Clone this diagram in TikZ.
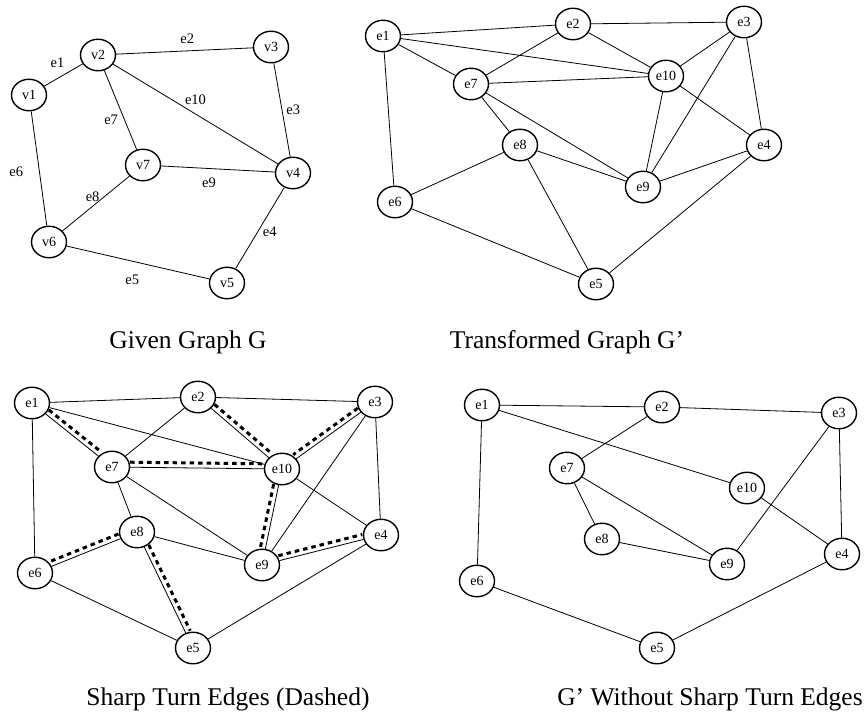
\documentclass[tikz,border=0pt]{standalone}
\usepackage{fontspec}
\setmainfont{Liberation Serif}
\usepackage{tikz}
\usetikzlibrary{shapes.geometric, positioning}

\begin{document}
\begin{tikzpicture}[
    x=1pt, y=-1pt,
    vertex/.style={draw, ellipse, line width=1.4pt, minimum width=35pt, minimum height=31.5pt, inner sep=0pt, font=\fontsize{14}{16}\selectfont},
    edge/.style={line width=0.8pt},
    sharp/.style={line width=3pt, dash pattern=on 4.5pt off 4pt},
    elabel/.style={font=\fontsize{14.5}{16}\selectfont, inner sep=1pt},
    caption/.style={font=\fontsize{25.5}{30}\selectfont, anchor=base}
]
    \useasboundingbox (0,0) rectangle (865,715);

    % Given graph G
    \node[vertex] (v1) at (29,95) {v1};
    \node[vertex] (v2) at (98,55) {v2};
    \node[vertex] (v3) at (271,47) {v3};
    \node[vertex] (v4) at (293,173) {v4};
    \node[vertex] (v5) at (227,283) {v5};
    \node[vertex] (v6) at (49,242) {v6};
    \node[vertex] (v7) at (143,165) {v7};

    \draw[edge] (v1) -- (v2) node[elabel, midway, above=6pt, xshift=-6pt] {e1};
    \draw[edge] (v2) -- (v3) node[elabel, pos=0.52, above=6pt] {e2};
    \draw[edge] (v3) -- (v4) node[elabel, midway, right=3pt] {e3};
    \draw[edge] (v4) -- (v5) node[elabel, pos=0.55, right=4pt] {e4};
    \draw[edge] (v6) -- (v5) node[elabel, pos=0.46, below=12pt] {e5};
    \draw[edge] (v1) -- (v6) node[elabel, pos=0.53, left=15pt] {e6};
    \draw[edge] (v2) -- (v7) node[elabel, pos=0.62, left=5pt] {e7};
    \draw[edge] (v7) -- (v6) node[elabel, pos=0.55, above=3pt] {e8};
    \draw[edge] (v7) -- (v4) node[elabel, pos=0.42, below=8pt] {e9};
    \draw[edge] (v2) -- (v4) node[elabel, midway, above=8pt] {e10};

    \node[caption] (capG) at (188,348) {Given Graph G};

    % Transformed graph G'
    \node[vertex] (t1) at (383,36) {e1};
    \node[vertex] (t2) at (573,24) {e2};
    \node[vertex] (t3) at (744,22) {e3};
    \node[vertex] (t4) at (764,145) {e4};
    \node[vertex] (t5) at (596,284) {e5};
    \node[vertex] (t6) at (395,202) {e6};
    \node[vertex] (t7) at (471,84) {e7};
    \node[vertex] (t8) at (520,145) {e8};
    \node[vertex] (t9) at (643,187) {e9};
    \node[vertex] (t10) at (666,76) {e10};

    \draw[edge] (t1) -- (t2) (t1) -- (t10) (t1) -- (t7) (t1) -- (t6)
                (t2) -- (t3) (t2) -- (t7) (t2) -- (t10)
                (t3) -- (t10) (t3) -- (t9) (t3) -- (t4)
                (t7) -- (t10) (t7) -- (t8) (t7) -- (t9)
                (t10) -- (t9) (t10) -- (t4)
                (t8) -- (t9) (t8) -- (t6) (t8) -- (t5)
                (t9) -- (t4) (t6) -- (t5) (t4) -- (t5);

    \node[caption] (capT) at (567,348) {Transformed Graph G’};

    % Sharp turn edges
    \node[vertex] (s1) at (32,403) {e1};
    \node[vertex] (s2) at (198,397) {e2};
    \node[vertex] (s3) at (375,402) {e3};
    \node[vertex] (s4) at (381,535) {e4};
    \node[vertex] (s5) at (193,648) {e5};
    \node[vertex] (s6) at (35,573) {e6};
    \node[vertex] (s7) at (112,467) {e7};
    \node[vertex] (s8) at (137,532) {e8};
    \node[vertex] (s9) at (262,565) {e9};
    \node[vertex] (s10) at (282,469) {e10};

    \draw[edge] (s1) -- (s2) (s1) -- (s10) (s1) -- (s7) (s1) -- (s6)
                (s2) -- (s3) (s2) -- (s7) (s2) -- (s10)
                (s3) -- (s10) (s3) -- (s9) (s3) -- (s4)
                (s7) -- (s10) (s7) -- (s8) (s7) -- (s9)
                (s10) -- (s9) (s10) -- (s4)
                (s8) -- (s9) (s8) -- (s6) (s8) -- (s5)
                (s9) -- (s4) (s6) -- (s5) (s4) -- (s5);

    % dashed copies beside the sharp turns
    \draw[sharp, transform canvas={shift={(3.2pt,3.9pt)}}] (s1) -- (s7);
    \draw[sharp, transform canvas={shift={(0pt,5pt)}}] (s7) -- (s10);
    \draw[sharp, transform canvas={shift={(3.3pt,3.9pt)}}] (s2) -- (s10);
    \draw[sharp, transform canvas={shift={(-3pt,4.1pt)}}] (s3) -- (s10);
    \draw[sharp, transform canvas={shift={(-5pt,1pt)}}] (s10) -- (s9);
    \draw[sharp, transform canvas={shift={(-1.2pt,4.9pt)}}] (s9) -- (s4);
    \draw[sharp, transform canvas={shift={(-1.9pt,4.7pt)}}] (s8) -- (s6);
    \draw[sharp, transform canvas={shift={(4.5pt,2.2pt)}}] (s8) -- (s5);

    \node[caption] (capS) at (228,705) {Sharp Turn Edges (Dashed)};

    % G' without sharp turn edges
    \node[vertex] (w1) at (482,405) {e1};
    \node[vertex] (w2) at (662,407) {e2};
    \node[vertex] (w3) at (839,413) {e3};
    \node[vertex] (w4) at (842,554) {e4};
    \node[vertex] (w5) at (657,648) {e5};
    \node[vertex] (w6) at (477,581) {e6};
    \node[vertex] (w7) at (567,468) {e7};
    \node[vertex] (w8) at (602,539) {e8};
    \node[vertex] (w9) at (727,564) {e9};
    \node[vertex] (w10) at (747,488) {e10};

    \draw[edge] (w1) -- (w2) (w2) -- (w3) (w1) -- (w10) (w1) -- (w6)
                (w2) -- (w7) (w3) -- (w9) (w3) -- (w4)
                (w7) -- (w8) (w7) -- (w9) (w8) -- (w9)
                (w10) -- (w4) (w6) -- (w5) (w4) -- (w5);

    \node[caption] (capW) at (710,705) {G’ Without Sharp Turn Edges};
\end{tikzpicture}
\end{document}
